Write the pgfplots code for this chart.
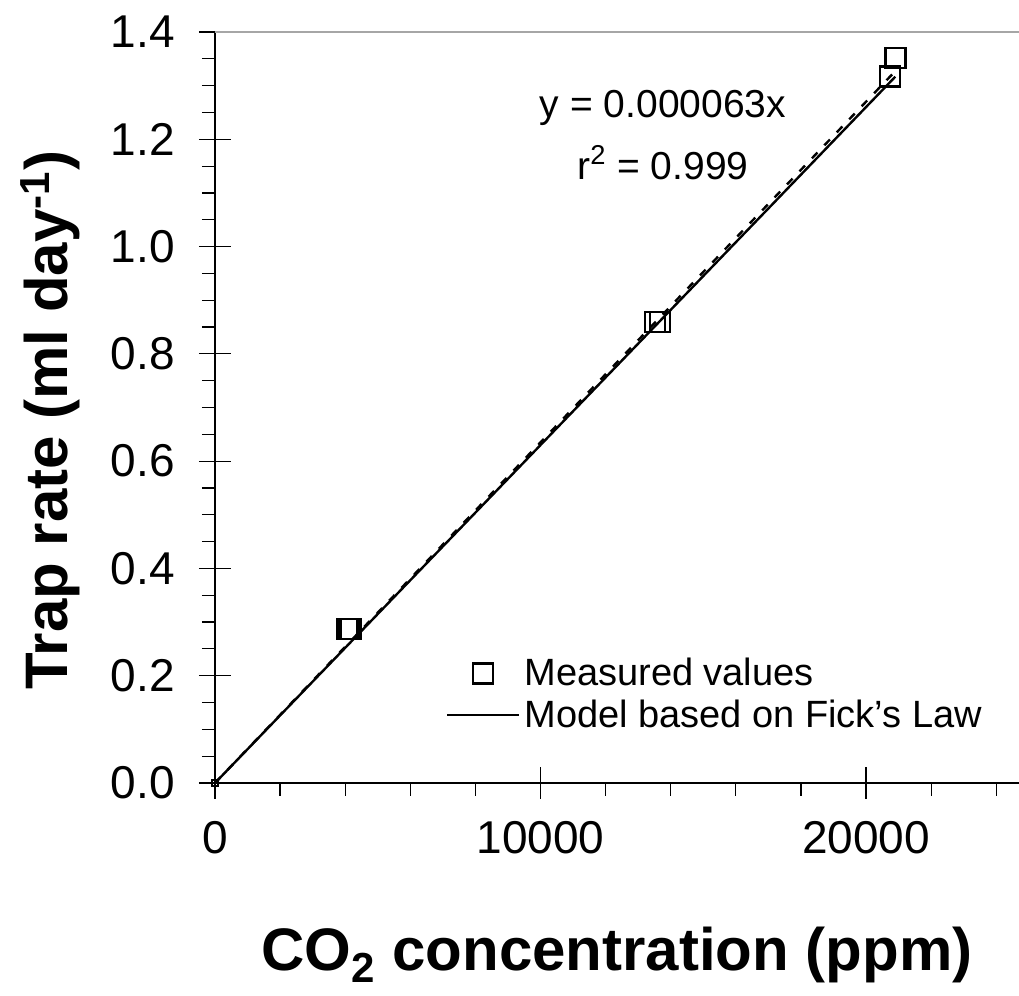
\documentclass[border=0pt]{standalone}
\usepackage{fontspec}
\setmainfont{Liberation Sans}
\usepackage{pgfplots}
\pgfplotsset{compat=1.18}
\begin{document}
\begin{tikzpicture}
\begin{axis}[
  name=ax,
  scale only axis,
  width=402pt, height=375.5pt,
  xmin=0, xmax=24700, ymin=0, ymax=1.4,
  axis x line*=bottom, axis y line*=left,
  axis line style={line width=1pt, -},
  clip=false,
  scaled x ticks=false,
  xtick={0,10000,20000},
  minor xtick={2000,4000,6000,8000,12000,14000,16000,18000,22000,24000},
  ytick={0,0.2,0.4,0.6,0.8,1.0,1.2,1.4},
  minor y tick num=3,
  tick align=center,
  major tick length=16pt,
  minor tick length=6.5pt,
  every minor x tick/.append style={yshift=-3.25pt},
  every minor y tick/.append style={xshift=-3.25pt},
  tick style={line width=0.6pt, black},
  /pgf/number format/assume math mode=true,
  /pgf/number format/1000 sep={},
  xticklabel={\pgfmathprintnumber[fixed,precision=0,1000 sep={}]{\tick}},
  yticklabel={\pgfmathprintnumber[fixed,fixed zerofill,precision=1]{\tick}},
  ticklabel style={font=\fontsize{23}{27}\selectfont},
  xticklabel style={yshift=-7.5pt},
  yticklabel style={xshift=-8.5pt},
  xlabel={CO\textsubscript{2} concentration (ppm)},
  ylabel={Trap rate (ml day\textsuperscript{-1})},
  label style={font=\fontsize{30}{36}\selectfont\bfseries},
  xlabel style={at={(rel axis cs:0.5,-0.229)}, anchor=center},
  ylabel style={at={(rel axis cs:-0.205,0.483)}, anchor=center},
  legend style={draw=none, fill=none, at={(axis cs:6900,0.248)}, anchor=north west,
    font=\fontsize{19}{23}\selectfont, row sep=1.5pt},
  legend cell align=left,
  legend image code/.code={\draw[mark repeat=2,mark phase=2] plot coordinates {(0pt,0pt) (18pt,0pt) (36pt,0pt)};},
]
\draw[gray!70, line width=1pt] (rel axis cs:0,1) -- (rel axis cs:1,1);
\addplot[only marks, mark=square, mark size=5pt, mark options={line width=1.2pt, black}] coordinates {
(4070,0.287) (4163,0.287) (13517,0.859) (13671,0.859) (20737,1.317) (20906,1.352)
};
\addlegendentry{Measured values}
\addplot[black, line width=1.2pt] coordinates {(0,0) (20900,1.3167)};
\addlegendentry{Model based on Fick's Law}
\addplot[black, line width=1.2pt, dash pattern=on 4pt off 5pt, forget plot] coordinates {(0,0) (20950,1.3303)};
\addplot[only marks, mark=square, mark size=1.5pt, mark options={line width=0.6pt, black}, forget plot] coordinates {(0,0)};
\node[font=\fontsize{19.5}{23}\selectfont] at (axis cs:13763,1.258) {y = 0.000063x};
\node[font=\fontsize{19.5}{23}\selectfont] at (axis cs:13763,1.156) {r\textsuperscript{2} = 0.999};
\end{axis}
\pgfresetboundingbox
\path[use as bounding box] ([xshift=-107.5pt,yshift=-106.5pt]ax.south west) rectangle ([yshift=16pt]ax.north east);
\end{tikzpicture}
\end{document}
